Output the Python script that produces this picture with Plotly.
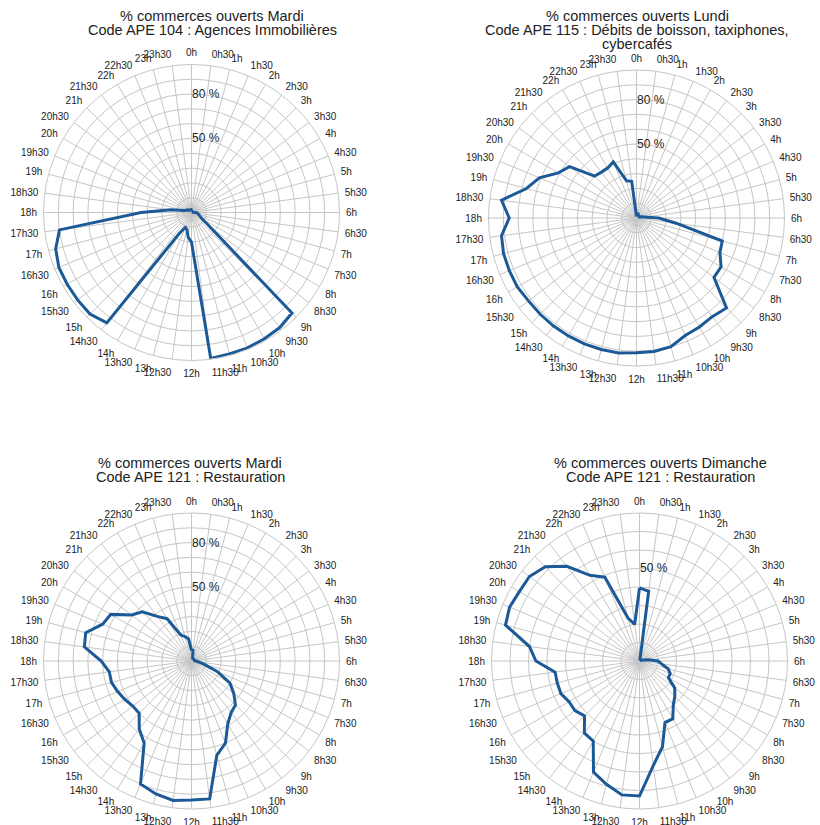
import plotly.graph_objects as go

W, H = 820, 825

# Angular categories: half-hour slots
hours = []
for h in range(24):
    hours.append(f"{h}h")
    hours.append(f"{h}h30")

# % commerces ouverts
mardi_104 = [1, 1, 1, 1, 1, 1, 1, 1, 1, 1, 1, 1,
             3, 4, 5, 6, 8, 15, 96, 98, 98.5, 99, 99, 99.5,
             20, 17, 12, 11, 16, 94, 97, 97, 97, 97, 95, 90,
             34, 14, 5, 4, 3, 3, 2, 2, 2, 2, 2, 2]

lundi_115 = [1, 3, 3, 3, 2, 2, 2, 2, 2, 2, 3, 5,
             15, 27, 60, 61, 66, 66, 86, 84, 85, 86, 90, 91,
             91, 92, 92, 92, 92, 92, 92, 92, 93, 93, 93, 92,
             86, 92, 77, 71, 61, 57, 40, 39, 39, 41, 26, 25]

mardi_121 = [7, 8, 3, 2, 2, 2, 2, 2, 2, 2, 2, 2,
             3, 5, 9, 19, 30, 36, 42, 44, 49, 60, 66, 94,
             94, 95, 93, 90, 64, 58, 50, 50, 52, 54, 56, 56,
             61, 73, 74, 65, 63, 51, 47, 38, 33, 19, 17, 15]

dimanche_121 = [39.5, 38, 1, 1, 1, 1, 1, 1, 1, 1, 2, 5,
                10, 12, 16, 18, 18, 24, 27, 30, 36, 36, 48, 57,
                73, 73, 69, 65, 50, 49, 42, 44, 44, 46, 46, 46,
                56, 60, 75, 76, 75, 75, 72, 64.5, 53.5, 49, 24, 20]

titles = [
    ["% commerces ouverts Mardi", "Code APE 104 : Agences Immobilières"],
    ["% commerces ouverts Lundi", "Code APE 115 : Débits de boisson, taxiphones,", "cybercafés"],
    ["% commerces ouverts Mardi", "Code APE 121 : Restauration"],
    ["% commerces ouverts Dimanche", "Code APE 121 : Restauration"],
]
series = [mardi_104, lundi_115, mardi_121, dimanche_121]
rmax = [100, 100, 100, 80]

# layout geometry (pixels)
centers = [(191.5, 212.5), (636.5, 218), (191.5, 661), (639.5, 661)]
R = 148
title_x = [212, 637, 190, 660]
title_y0 = [15.5, 15.5, 463.5, 463.5]
LINE_STEP = 14

LINE = "#1c5a97"
GRID = "#c6c6c6"
TXT = "#222222"
FONT = "Liberation Sans, Arial, sans-serif"

fig = go.Figure()
layout = dict(
    width=W, height=H,
    margin=dict(l=0, r=0, t=0, b=0),
    paper_bgcolor="white", plot_bgcolor="white",
    showlegend=False,
    font=dict(family=FONT, color=TXT),
    annotations=[],
)

for i, (vals, ttl, rm) in enumerate(zip(series, titles, rmax)):
    key = "polar" if i == 0 else f"polar{i+1}"
    cx, cy = centers[i]
    fig.add_trace(go.Scatterpolar(
        r=vals + [vals[0]],
        theta=hours + [hours[0]],
        mode="lines",
        line=dict(color=LINE, width=3),
        subplot=key,
        hoverinfo="skip",
    ))
    tv = list(range(10, rm + 1, 10))
    tt = [("%d %%" % v) if v in (50, 80) and v < rm else "" for v in tv]
    layout[key] = dict(
        domain=dict(x=[(cx - R) / W, (cx + R) / W],
                    y=[1 - (cy + R) / H, 1 - (cy - R) / H]),
        bgcolor="white",
        angularaxis=dict(
            type="category",
            categoryorder="array",
            categoryarray=hours,
            direction="clockwise",
            rotation=90,
            showline=True, linecolor=GRID, linewidth=1,
            showgrid=True, gridcolor=GRID, gridwidth=1,
            ticks="outside", ticklen=4, tickcolor="rgba(0,0,0,0)",
            tickfont=dict(size=10, color=TXT, family=FONT),
        ),
        radialaxis=dict(
            range=[0, rm],
            angle=90,
            tickangle=90,
            tickvals=tv,
            ticktext=tt,
            showline=False,
            ticks="",
            showgrid=True, gridcolor=GRID, gridwidth=1,
            tickfont=dict(size=12, color=TXT, family=FONT),
        ),
    )
    for j, line in enumerate(ttl):
        layout["annotations"].append(dict(
            text=line, x=title_x[i] / W, y=1 - (title_y0[i] + j * LINE_STEP) / H,
            xref="paper", yref="paper",
            xanchor="center", yanchor="middle", showarrow=False,
            font=dict(size=14.5, color=TXT, family=FONT),
        ))

fig.update_layout(**layout)
fig.write_html("out.html", config={"displayModeBar": False},
               post_script="document.body.style.margin='0';")
